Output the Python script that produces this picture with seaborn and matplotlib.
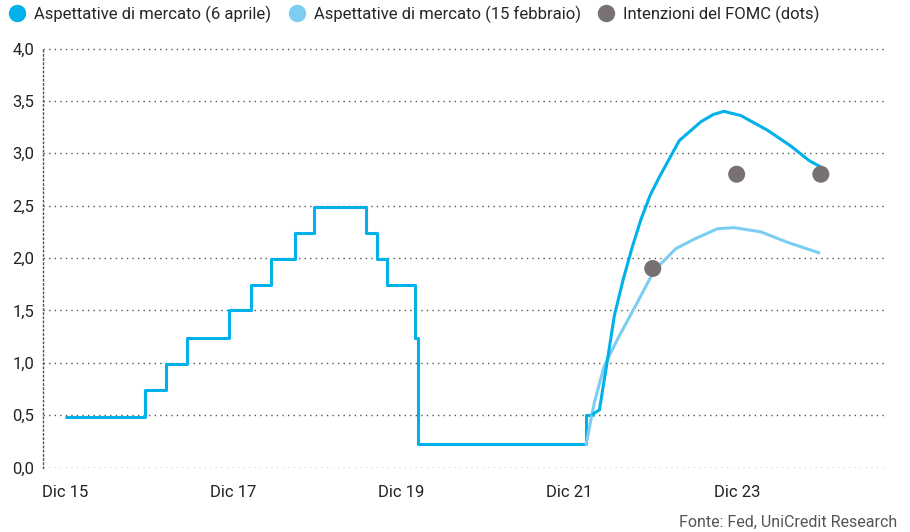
import pandas as pd
import numpy as np
import matplotlib
matplotlib.use('Agg')
import matplotlib.pyplot as plt
from matplotlib.lines import Line2D
from matplotlib.ticker import FuncFormatter
import seaborn as sns

# fed funds (upper bound), step changes
fed_dates = ['2016-01-04', '2016-12-14', '2017-03-15', '2017-06-14', '2017-12-13', '2018-03-21',
             '2018-06-13', '2018-09-26', '2018-12-19', '2019-07-31', '2019-09-18', '2019-10-30',
             '2020-03-03', '2020-03-15', '2022-03-16', '2022-04-14']
fed_rate = [0.48, 0.74, 0.99, 1.24, 1.5, 1.74, 1.99, 2.24, 2.49, 2.24, 1.99, 1.74,
            1.24, 0.22, 0.5, 0.5]

# market expectations (6 april)
apr_dates = ['2022-04-14', '2022-05-13', '2022-06-15', '2022-07-17', '2022-08-25', '2022-10-05',
             '2022-11-10', '2022-12-20', '2023-01-28', '2023-04-25', '2023-07-28', '2023-09-20',
             '2023-11-06', '2024-01-18', '2024-05-13', '2024-08-22', '2024-11-10', '2024-12-30']
apr_rate = [0.51, 0.55, 1.0, 1.45, 1.8, 2.12, 2.37, 2.6, 2.77, 3.12, 3.30, 3.37,
            3.40, 3.36, 3.22, 3.07, 2.93, 2.87]

# market expectations (15 february)
feb_dates = ['2022-03-16', '2022-04-21', '2022-06-03', '2022-08-01', '2022-10-26', '2023-01-06',
             '2023-04-11', '2023-06-29', '2023-10-09', '2023-12-20', '2024-04-14', '2024-08-08',
             '2024-12-23']
feb_rate = [0.22, 0.62, 0.97, 1.23, 1.58, 1.88, 2.09, 2.18, 2.28, 2.29, 2.25, 2.15, 2.05]

# FOMC dots
dot_dates = ['2022-12-31', '2023-12-31', '2024-12-31']
dot_rate = [1.9, 2.8, 2.8]

tick_dates = ['2016-01-01', '2018-01-01', '2020-01-01', '2022-01-01', '2024-01-01']
tick_labels = ['Dic 15', 'Dic 17', 'Dic 19', 'Dic 21', 'Dic 23']

fed = pd.DataFrame({'date': pd.to_datetime(fed_dates), 'rate': fed_rate})
apr = pd.DataFrame({'date': pd.to_datetime(apr_dates), 'rate': apr_rate})
feb = pd.DataFrame({'date': pd.to_datetime(feb_dates), 'rate': feb_rate})
dots = pd.DataFrame({'date': pd.to_datetime(dot_dates), 'rate': dot_rate})

c_dark = '#00B1EA'
c_light = '#7CCDF2'
c_grey = '#777271'

sns.set_style('white')
plt.rcParams['font.family'] = ['Roboto', 'DejaVu Sans']

fig = plt.figure(figsize=(9.1, 5.32), dpi=100)
ax = fig.add_axes([0.047, 0.12, 0.926, 0.79])

sns.lineplot(data=fed, x='date', y='rate', ax=ax, color=c_dark, linewidth=2.2, drawstyle='steps-post')
sns.lineplot(data=feb, x='date', y='rate', ax=ax, color=c_light, linewidth=2.2)
sns.lineplot(data=apr, x='date', y='rate', ax=ax, color=c_dark, linewidth=2.2)
sns.scatterplot(data=dots, x='date', y='rate', ax=ax, color=c_grey, s=150, edgecolor='none', zorder=5)

ax.set_ylim(-0.006, 4.006)
ax.set_xlim(pd.Timestamp('2015-09-26'), pd.Timestamp('2025-10-08'))
ax.set_yticks(np.arange(0, 4.01, 0.5))
ax.yaxis.set_major_formatter(FuncFormatter(lambda v, p: f'{v:.1f}'.replace('.', ',')))
ax.set_xticks(pd.to_datetime(tick_dates))
ax.set_xticklabels(tick_labels)
ax.tick_params(axis='both', length=0, labelsize=12, colors='#222222')
ax.tick_params(axis='x', pad=12)
ax.tick_params(axis='y', pad=6)
ax.set_xlabel('')
ax.set_ylabel('')

ax.grid(axis='y', linestyle=(0, (1, 3)), color='#555555', linewidth=1)
for s in ['top', 'right', 'bottom']:
    ax.spines[s].set_visible(False)
ax.spines['left'].set_linestyle((0, (1, 2)))
ax.spines['left'].set_color('#555555')
ax.spines['left'].set_linewidth(1)

handles = [Line2D([], [], marker='o', linestyle='', color=c, markersize=11.5)
           for c in [c_dark, c_light, c_grey]]
labels = ['Aspettative di mercato (6 aprile)', 'Aspettative di mercato (15 febbraio)',
          'Intenzioni del FOMC (dots)']
fig.legend(handles, labels, loc='upper left', bbox_to_anchor=(-0.012, 1.012), ncol=3, frameon=False,
           fontsize=12, handletextpad=0.0, columnspacing=0.55, borderaxespad=0.3)

fig.text(0.986, 0.004, 'Fonte: Fed, UniCredit Research', ha='right', va='bottom',
         fontsize=11.5, color='#555555')

fig.savefig('out.png', dpi=100)
